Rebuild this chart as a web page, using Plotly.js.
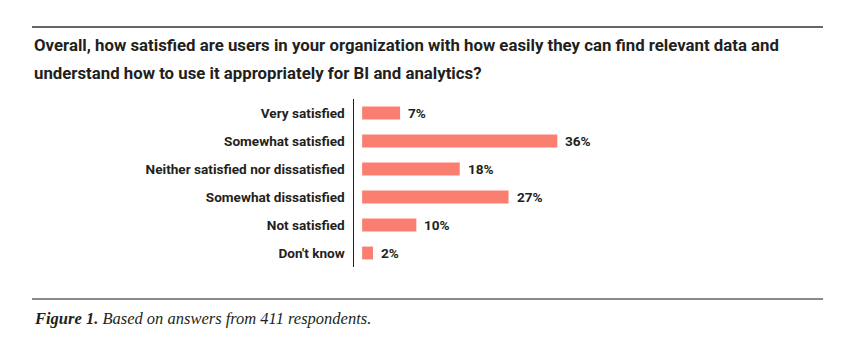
<!DOCTYPE html>
<html>
<head>
<meta charset="utf-8">
<script src="https://cdn.plot.ly/plotly-3.0.1.min.js"></script>
<style>html,body{margin:0;padding:0;background:#fff;}#chart{width:853px;height:340px;}</style>
</head>
<body>
<div id="chart"></div>
<script>
const categories = ["Very satisfied", "Somewhat satisfied", "Neither satisfied nor dissatisfied", "Somewhat dissatisfied", "Not satisfied", "Don't know"];
const values = [7, 36, 18, 27, 10, 2];
const valueLabels = ["7%", "36%", "18%", "27%", "10%", "2%"];
const titleLines = ["Overall, how satisfied are users in your organization with how easily they can find relevant data and", "understand how to use it appropriately for BI and analytics?"];
const captionBold = "Figure 1.";
const captionText = " Based on answers from 411 respondents.";

const W = 853, H = 340;
const L = 354, R = 30, T = 99, B = 73;
const pw = W - L - R, ph = H - T - B;
const px = x => (x - L) / pw;
const py = y => (H - B - y) / ph;

const sans = "Roboto, 'Liberation Sans', sans-serif";
const ink = "#231f20";

const trace = {
  type: "bar",
  orientation: "h",
  y: categories,
  x: values,
  cliponaxis: false,
  marker: {color: "#fa7f71"},
  hoverinfo: "none"
};

const valueAnnotations = values.map((v, i) => ({
  xref: "x", yref: "y", x: v, y: categories[i],
  xanchor: "left", yanchor: "middle", xshift: 6, showarrow: false,
  text: valueLabels[i],
  font: {family: sans, size: 13.6, color: ink, weight: 700}
}));

const layout = {
  width: W, height: H,
  margin: {l: L, r: R, t: T, b: B, pad: 0},
  paper_bgcolor: "#fff", plot_bgcolor: "#fff",
  showlegend: false,
  bargap: 0.54,
  xaxis: {range: [-1.5, 85], visible: false, fixedrange: true},
  yaxis: {
    autorange: "reversed",
    type: "category",
    showline: true, linecolor: ink, linewidth: 1.5,
    showgrid: false, zeroline: false,
    ticks: "", ticklabelstandoff: 5,
    tickfont: {family: sans, size: 13.6, color: ink, weight: 700},
    fixedrange: true
  },
  shapes: [
    {type: "line", xref: "paper", yref: "paper", x0: px(32), x1: px(823), y0: py(27), y1: py(27), line: {color: "#333", width: 1.5}},
    {type: "line", xref: "paper", yref: "paper", x0: px(32), x1: px(823), y0: py(299), y1: py(299), line: {color: "#8a8a8a", width: 2}}
  ],
  annotations: [
    {xref: "paper", yref: "paper", x: px(32), y: py(45), xanchor: "left", yanchor: "middle", showarrow: false, text: titleLines[0], font: {family: sans, size: 16.8, color: ink, weight: 700}},
    {xref: "paper", yref: "paper", x: px(32), y: py(73), xanchor: "left", yanchor: "middle", showarrow: false, text: titleLines[1], font: {family: sans, size: 16.8, color: ink, weight: 700}},
    {xref: "paper", yref: "paper", x: px(32), y: py(318), xanchor: "left", yanchor: "middle", showarrow: false, text: "<b><i>" + captionBold + "</i></b><i>" + captionText + "</i>", font: {family: "'Liberation Serif', 'DejaVu Serif', serif", size: 16.5, color: ink}}
  ].concat(valueAnnotations)
};

Plotly.newPlot("chart", [trace], layout, {staticPlot: true, displayModeBar: false});
</script>
</body>
</html>
